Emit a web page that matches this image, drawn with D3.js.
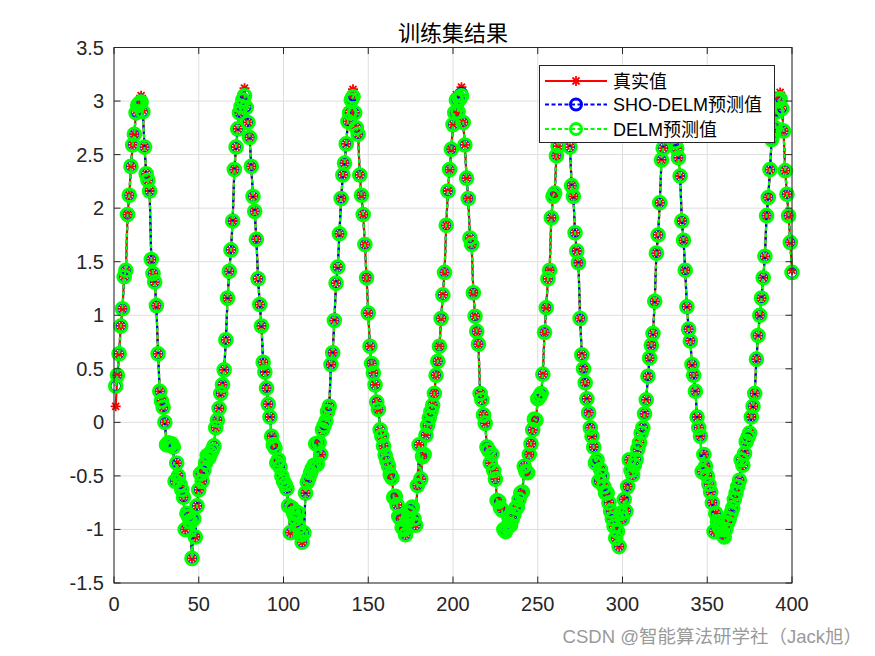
<!DOCTYPE html>
<html><head><meta charset="utf-8">
<script src="https://cdn.jsdelivr.net/npm/d3@7"></script>
<style>body{margin:0;background:#fff;} svg{display:block}</style>
</head><body>
<svg id="c" width="875" height="656"></svg>
<script>
const trueVals = [
0.15,0.44,0.64,0.90,1.06,1.36,1.42,1.94,2.12,2.39,
2.59,2.69,2.91,2.98,3.00,3.05,2.91,2.57,2.32,2.26,
2.16,1.52,1.39,1.31,1.09,0.64,0.29,0.20,0.14,0.00,
-0.21,-0.19,-0.21,-0.20,-0.23,-0.55,-0.38,-0.50,-0.58,-0.63,
-0.70,-1.00,-0.85,-0.88,-0.93,-1.27,-0.90,-1.07,-0.78,-0.63,
-0.48,-0.55,-0.45,-0.38,-0.31,-0.33,-0.29,-0.26,-0.22,-0.05,
0.02,0.13,0.27,0.35,0.49,0.77,1.16,1.41,1.61,1.88,
2.36,2.57,2.74,2.89,2.95,3.04,3.12,2.96,2.80,2.66,
2.39,2.11,1.97,1.71,1.34,1.10,0.90,0.56,0.47,0.32,
0.17,0.05,-0.13,-0.21,-0.24,-0.38,-0.35,-0.42,-0.50,-0.55,
-0.58,-0.62,-0.78,-1.03,-0.80,-0.85,-0.90,-0.84,-0.98,-1.05,
-1.12,-1.03,-0.66,-0.56,-0.52,-0.47,-0.43,-0.40,-0.20,-0.39,
-0.19,-0.30,-0.07,-0.03,0.01,0.10,0.15,0.54,0.65,0.95,
1.30,1.45,1.76,2.09,2.31,2.42,2.60,2.81,2.89,3.04,
3.11,2.89,2.75,2.69,2.31,2.12,1.94,1.66,1.35,1.02,
0.71,0.55,0.46,0.35,0.19,0.12,-0.07,-0.13,-0.22,-0.31,
-0.36,-0.41,-0.49,-0.52,-0.70,-0.69,-0.77,-0.88,-0.90,-0.98,
-1.00,-1.05,-0.92,-0.85,-0.81,-0.79,-0.90,-0.96,-0.59,-0.21,
-0.53,-0.32,-0.30,-0.12,-0.03,0.04,0.10,0.16,0.27,0.44,
0.57,0.71,0.97,1.19,1.40,1.84,2.16,2.36,2.55,2.78,
2.89,3.06,2.90,3.05,3.13,2.80,2.59,2.28,2.09,1.72,
1.66,1.21,0.99,0.85,0.73,0.27,0.21,0.07,-0.01,-0.23,
-0.26,-0.38,-0.30,-0.45,-0.53,-0.73,-0.74,-0.80,-0.82,-1.00,
-1.02,-0.98,-0.95,-0.96,-0.90,-0.86,-0.80,-0.79,-0.72,-0.66,
-0.65,-0.41,-0.46,-0.47,-0.30,-0.20,-0.07,0.03,0.02,0.22,
0.24,0.27,0.45,0.84,1.07,1.34,1.42,1.91,2.11,2.14,
2.49,2.58,2.67,2.88,3.00,3.10,2.95,2.80,2.57,2.21,
2.11,1.77,1.60,1.49,0.97,0.63,0.50,0.37,0.22,0.09,
-0.05,-0.13,-0.23,-0.38,-0.35,-0.55,-0.44,-0.50,-0.60,-0.66,
-0.66,-0.75,-0.83,-0.90,-0.97,-1.08,-1.02,-1.16,-0.85,-0.90,
-0.72,-0.83,-0.60,-0.35,-0.45,-0.49,-0.40,-0.35,-0.25,-0.19,
-0.10,-0.05,0.08,0.21,0.43,0.60,0.72,0.83,1.13,1.58,
1.75,2.05,2.45,2.56,2.75,2.95,3.05,3.10,2.90,2.75,
2.62,2.56,2.47,2.30,1.88,1.70,1.42,1.08,0.87,0.76,
0.54,0.44,0.29,0.05,-0.05,-0.13,-0.46,-0.30,-0.41,-0.50,
-0.58,-0.65,-0.75,-1.02,-0.85,-0.93,-0.98,-1.00,-1.05,-1.07,
-1.00,-0.94,-0.90,-0.85,-0.80,-0.72,-0.66,-0.60,-0.54,-0.35,
-0.40,-0.29,-0.18,-0.14,-0.10,0.05,0.15,0.27,0.59,0.81,
1.00,1.16,1.35,1.55,1.93,2.10,2.36,2.64,2.70,2.75,
2.90,3.03,3.08,2.95,2.72,2.35,2.13,1.93,1.68,1.42
];
const shoDelmPred = [
0.34,0.44,0.64,0.90,1.06,1.36,1.42,1.94,2.12,2.39,
2.59,2.69,2.90,2.97,2.99,3.00,2.90,2.57,2.32,2.26,
2.16,1.52,1.39,1.31,1.09,0.64,0.29,0.20,0.14,0.00,
-0.21,-0.19,-0.21,-0.20,-0.23,-0.55,-0.38,-0.50,-0.58,-0.63,
-0.70,-1.00,-0.85,-0.88,-0.93,-1.27,-0.90,-1.07,-0.78,-0.63,
-0.48,-0.55,-0.45,-0.38,-0.31,-0.33,-0.29,-0.26,-0.22,-0.05,
0.02,0.13,0.27,0.35,0.49,0.77,1.16,1.41,1.61,1.88,
2.36,2.57,2.74,2.89,2.95,3.02,3.06,2.95,2.80,2.66,
2.39,2.11,1.97,1.71,1.34,1.10,0.90,0.56,0.47,0.32,
0.17,0.05,-0.13,-0.21,-0.24,-0.38,-0.35,-0.42,-0.50,-0.55,
-0.58,-0.62,-0.78,-1.03,-0.80,-0.85,-0.90,-0.84,-0.98,-1.05,
-1.12,-1.03,-0.66,-0.56,-0.52,-0.47,-0.43,-0.40,-0.20,-0.39,
-0.19,-0.30,-0.07,-0.03,0.01,0.10,0.15,0.54,0.65,0.95,
1.30,1.45,1.76,2.09,2.31,2.42,2.60,2.81,2.89,3.02,
3.05,2.89,2.75,2.69,2.31,2.12,1.94,1.66,1.35,1.02,
0.71,0.55,0.46,0.35,0.19,0.12,-0.07,-0.13,-0.22,-0.31,
-0.36,-0.41,-0.49,-0.52,-0.70,-0.69,-0.77,-0.88,-0.90,-0.98,
-1.00,-1.05,-0.92,-0.85,-0.81,-0.79,-0.90,-0.96,-0.59,-0.21,
-0.53,-0.32,-0.30,-0.12,-0.03,0.04,0.10,0.16,0.27,0.44,
0.57,0.71,0.97,1.19,1.40,1.84,2.16,2.36,2.55,2.78,
2.89,3.02,2.90,3.03,3.07,2.80,2.59,2.28,2.09,1.72,
1.66,1.21,0.99,0.85,0.73,0.27,0.21,0.07,-0.01,-0.23,
-0.26,-0.38,-0.30,-0.45,-0.53,-0.73,-0.74,-0.80,-0.82,-1.00,
-1.02,-0.98,-0.95,-0.96,-0.90,-0.86,-0.80,-0.79,-0.72,-0.66,
-0.65,-0.41,-0.46,-0.47,-0.30,-0.20,-0.07,0.03,0.02,0.22,
0.24,0.27,0.45,0.84,1.07,1.34,1.42,1.91,2.11,2.14,
2.49,2.58,2.67,2.88,2.98,3.04,2.94,2.80,2.57,2.21,
2.11,1.77,1.60,1.49,0.97,0.63,0.50,0.37,0.22,0.09,
-0.05,-0.13,-0.23,-0.38,-0.35,-0.55,-0.44,-0.50,-0.60,-0.66,
-0.66,-0.75,-0.83,-0.90,-0.97,-1.08,-1.02,-1.16,-0.85,-0.90,
-0.72,-0.83,-0.60,-0.35,-0.45,-0.49,-0.40,-0.35,-0.25,-0.19,
-0.10,-0.05,0.08,0.21,0.43,0.60,0.72,0.83,1.13,1.58,
1.75,2.05,2.45,2.56,2.75,2.94,3.02,3.04,2.90,2.75,
2.62,2.56,2.47,2.30,1.88,1.70,1.42,1.08,0.87,0.76,
0.54,0.44,0.29,0.05,-0.05,-0.13,-0.46,-0.30,-0.41,-0.50,
-0.58,-0.65,-0.75,-1.02,-0.85,-0.93,-0.98,-1.00,-1.05,-1.07,
-1.00,-0.94,-0.90,-0.85,-0.80,-0.72,-0.66,-0.60,-0.54,-0.35,
-0.40,-0.29,-0.18,-0.14,-0.10,0.05,0.15,0.27,0.59,0.81,
1.00,1.16,1.35,1.55,1.93,2.10,2.36,2.64,2.70,2.75,
2.90,3.01,3.03,2.94,2.72,2.35,2.13,1.93,1.68,1.40
];
const delmPred = [
0.34,0.44,0.64,0.90,1.06,1.36,1.42,1.94,2.12,2.39,
2.59,2.69,2.89,2.96,2.98,2.99,2.90,2.57,2.32,2.26,
2.16,1.52,1.39,1.31,1.09,0.64,0.29,0.20,0.14,0.00,
-0.21,-0.19,-0.21,-0.20,-0.23,-0.55,-0.38,-0.50,-0.58,-0.63,
-0.70,-1.00,-0.85,-0.88,-0.93,-1.27,-0.90,-1.07,-0.78,-0.63,
-0.48,-0.55,-0.45,-0.38,-0.31,-0.33,-0.29,-0.26,-0.22,-0.05,
0.02,0.13,0.27,0.35,0.49,0.77,1.16,1.41,1.61,1.88,
2.36,2.57,2.74,2.89,2.95,3.01,3.05,2.94,2.80,2.66,
2.39,2.11,1.97,1.71,1.34,1.10,0.90,0.56,0.47,0.32,
0.17,0.05,-0.13,-0.21,-0.24,-0.38,-0.35,-0.42,-0.50,-0.55,
-0.58,-0.62,-0.78,-1.03,-0.80,-0.85,-0.90,-0.84,-0.98,-1.05,
-1.12,-1.03,-0.66,-0.56,-0.52,-0.47,-0.43,-0.40,-0.20,-0.39,
-0.19,-0.30,-0.07,-0.03,0.01,0.10,0.15,0.54,0.65,0.95,
1.30,1.45,1.76,2.09,2.31,2.42,2.60,2.81,2.89,3.01,
3.04,2.89,2.75,2.69,2.31,2.12,1.94,1.66,1.35,1.02,
0.71,0.55,0.46,0.35,0.19,0.12,-0.07,-0.13,-0.22,-0.31,
-0.36,-0.41,-0.49,-0.52,-0.70,-0.69,-0.77,-0.88,-0.90,-0.98,
-1.00,-1.05,-0.92,-0.85,-0.81,-0.79,-0.90,-0.96,-0.59,-0.21,
-0.53,-0.32,-0.30,-0.12,-0.03,0.04,0.10,0.16,0.27,0.44,
0.57,0.71,0.97,1.19,1.40,1.84,2.16,2.36,2.55,2.78,
2.89,3.01,2.90,3.02,3.05,2.80,2.59,2.28,2.09,1.72,
1.66,1.21,0.99,0.85,0.73,0.27,0.21,0.07,-0.01,-0.23,
-0.26,-0.38,-0.30,-0.45,-0.53,-0.73,-0.74,-0.80,-0.82,-1.00,
-1.02,-0.98,-0.95,-0.96,-0.90,-0.86,-0.80,-0.79,-0.72,-0.66,
-0.65,-0.41,-0.46,-0.47,-0.30,-0.20,-0.07,0.03,0.02,0.22,
0.24,0.27,0.45,0.84,1.07,1.34,1.42,1.91,2.11,2.14,
2.49,2.58,2.67,2.88,2.97,3.03,2.93,2.80,2.57,2.21,
2.11,1.77,1.60,1.49,0.97,0.63,0.50,0.37,0.22,0.09,
-0.05,-0.13,-0.23,-0.38,-0.35,-0.55,-0.44,-0.50,-0.60,-0.66,
-0.66,-0.75,-0.83,-0.90,-0.97,-1.08,-1.02,-1.16,-0.85,-0.90,
-0.72,-0.83,-0.60,-0.35,-0.45,-0.49,-0.40,-0.35,-0.25,-0.19,
-0.10,-0.05,0.08,0.21,0.43,0.60,0.72,0.83,1.13,1.58,
1.75,2.05,2.45,2.56,2.75,2.93,3.01,3.03,2.90,2.75,
2.62,2.56,2.47,2.30,1.88,1.70,1.42,1.08,0.87,0.76,
0.54,0.44,0.29,0.05,-0.05,-0.13,-0.46,-0.30,-0.41,-0.50,
-0.58,-0.65,-0.75,-1.02,-0.85,-0.93,-0.98,-1.00,-1.05,-1.07,
-1.00,-0.94,-0.90,-0.85,-0.80,-0.72,-0.66,-0.60,-0.54,-0.35,
-0.40,-0.29,-0.18,-0.14,-0.10,0.05,0.15,0.27,0.59,0.81,
1.00,1.16,1.35,1.55,1.93,2.10,2.36,2.64,2.70,2.75,
2.90,3.00,3.02,2.93,2.72,2.35,2.13,1.93,1.68,1.40
];
const seriesNames = ["真实值", "SHO-DELM预测值", "DELM预测值"];
const xTicks = [0, 50, 100, 150, 200, 250, 300, 350, 400];
const yTicks = [-1.5, -1, -0.5, 0, 0.5, 1, 1.5, 2, 2.5, 3, 3.5];
const titleText = "训练集结果";
const watermark = "CSDN @智能算法研学社（Jack旭）";

const svg = d3.select("#c");
const L = 114, R = 792, T = 47.5, B = 583;
const x = d3.scaleLinear().domain([0, 400]).range([L, R]);
const y = d3.scaleLinear().domain([-1.5, 3.5]).range([B, T]);
const axisColor = "#262626";
const tickFont = "'Liberation Sans', Arial, sans-serif";
const cjk = "'Liberation Sans', 'Noto Sans CJK SC', sans-serif";

svg.append("rect").attr("width", 875).attr("height", 656).attr("fill", "#fff");

// grid
const g = svg.append("g");
g.selectAll(".gx").data(xTicks).enter().append("line")
  .attr("x1", d => x(d)).attr("x2", d => x(d)).attr("y1", T).attr("y2", B)
  .attr("stroke", "#dfdfdf").attr("stroke-width", 1);
g.selectAll(".gy").data(yTicks).enter().append("line")
  .attr("y1", d => y(d)).attr("y2", d => y(d)).attr("x1", L).attr("x2", R)
  .attr("stroke", "#dfdfdf").attr("stroke-width", 1);

// series
const line = d3.line().x((d, i) => x(i + 1)).y(d => y(d));
const plot = svg.append("g");
const star = "M-5,0H5M0,-5V5M-3.5,-3.5L3.5,3.5M-3.5,3.5L3.5,-3.5";

plot.append("path").datum(trueVals).attr("d", line)
  .attr("fill", "none").attr("stroke", "#ff0000").attr("stroke-width", 2.2);
plot.selectAll(".st").data(trueVals).enter().append("path")
  .attr("d", star).attr("transform", (d, i) => `translate(${x(i + 1)},${y(d)})`)
  .attr("stroke", "#ff0000").attr("stroke-width", 1.8).attr("fill", "none");

plot.append("path").datum(shoDelmPred).attr("d", line)
  .attr("fill", "none").attr("stroke", "#0000ff").attr("stroke-width", 2.2)
  .attr("stroke-dasharray", "4,2.5");
plot.selectAll(".bc").data(shoDelmPred).enter().append("circle")
  .attr("cx", (d, i) => x(i + 1)).attr("cy", d => y(d)).attr("r", 5.5)
  .attr("fill", "none").attr("stroke", "#0000ff").attr("stroke-width", 2.4);

plot.append("path").datum(delmPred).attr("d", line)
  .attr("fill", "none").attr("stroke", "#00ff00").attr("stroke-width", 2.2)
  .attr("stroke-dasharray", "4,2.5");
plot.selectAll(".gc").data(delmPred).enter().append("circle")
  .attr("cx", (d, i) => x(i + 1)).attr("cy", d => y(d)).attr("r", 6.3)
  .attr("fill", "none").attr("stroke", "#00ff00").attr("stroke-width", 3);

// axes box + ticks
const ax = svg.append("g");
ax.append("rect").attr("x", L).attr("y", T).attr("width", R - L).attr("height", B - T)
  .attr("fill", "none").attr("stroke", axisColor).attr("stroke-width", 1);
const tl = 6.5;
xTicks.forEach(t => {
  ax.append("line").attr("x1", x(t)).attr("x2", x(t)).attr("y1", B).attr("y2", B - tl).attr("stroke", axisColor);
  ax.append("line").attr("x1", x(t)).attr("x2", x(t)).attr("y1", T).attr("y2", T + tl).attr("stroke", axisColor);
  ax.append("text").attr("x", x(t)).attr("y", 611).attr("text-anchor", "middle")
    .attr("font-family", tickFont).attr("font-size", 20).attr("fill", axisColor).text(t);
});
yTicks.forEach(t => {
  ax.append("line").attr("y1", y(t)).attr("y2", y(t)).attr("x1", L).attr("x2", L + tl).attr("stroke", axisColor);
  ax.append("line").attr("y1", y(t)).attr("y2", y(t)).attr("x1", R).attr("x2", R - tl).attr("stroke", axisColor);
  ax.append("text").attr("x", 104).attr("y", y(t) + 7).attr("text-anchor", "end")
    .attr("font-family", tickFont).attr("font-size", 20).attr("fill", axisColor).text(t);
});

// title
svg.append("text").attr("x", (L + R) / 2).attr("y", 41).attr("text-anchor", "middle")
  .attr("font-family", cjk).attr("font-size", 22).attr("fill", "#000").text(titleText);

// legend
const lg = svg.append("g");
lg.append("rect").attr("x", 539.5).attr("y", 65.5).attr("width", 235).attr("height", 77)
  .attr("fill", "#fff").attr("stroke", axisColor).attr("stroke-width", 1);
const rows = [81, 104.5, 129];
const lx1 = 545, lx2 = 607, lm = 576;
lg.append("line").attr("x1", lx1).attr("x2", lx2).attr("y1", rows[0]).attr("y2", rows[0])
  .attr("stroke", "#ff0000").attr("stroke-width", 2.2);
lg.append("path").attr("d", star).attr("transform", `translate(${lm},${rows[0]})`)
  .attr("stroke", "#ff0000").attr("stroke-width", 1.8);
lg.append("line").attr("x1", lx1).attr("x2", lx2).attr("y1", rows[1]).attr("y2", rows[1])
  .attr("stroke", "#0000ff").attr("stroke-width", 2.2).attr("stroke-dasharray", "4,2.5");
lg.append("circle").attr("cx", lm).attr("cy", rows[1]).attr("r", 5.5)
  .attr("fill", "none").attr("stroke", "#0000ff").attr("stroke-width", 3);
lg.append("line").attr("x1", lx1).attr("x2", lx2).attr("y1", rows[2]).attr("y2", rows[2])
  .attr("stroke", "#00ff00").attr("stroke-width", 2.2).attr("stroke-dasharray", "4,2.5");
lg.append("circle").attr("cx", lm).attr("cy", rows[2]).attr("r", 5.5)
  .attr("fill", "none").attr("stroke", "#00ff00").attr("stroke-width", 3);
seriesNames.forEach((n, i) => {
  lg.append("text").attr("x", 613).attr("y", rows[i] + 6.5)
    .attr("font-family", cjk).attr("font-size", 18).attr("fill", "#000").text(n);
});

// watermark
svg.append("text").attr("x", 862).attr("y", 643).attr("text-anchor", "end")
  .attr("font-family", cjk).attr("font-size", 18.5).attr("fill", "#9a9a9a").text(watermark);
</script>
</body></html>
